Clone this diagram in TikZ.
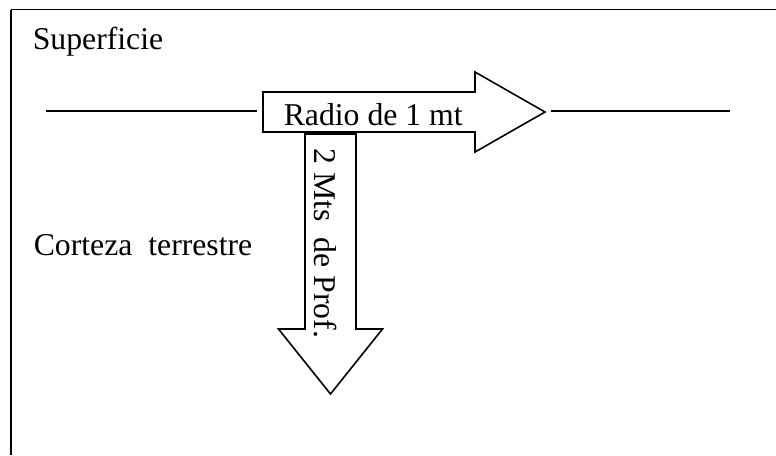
\documentclass[tikz,border=0pt]{standalone}
\usepackage{fontspec}
\setmainfont{Liberation Serif}
\begin{document}
\begin{tikzpicture}[x=0.75pt,y=-0.75pt,
  line width=1.2pt,
  label/.style={inner sep=0pt,font=\fontsize{23.8pt}{28pt}\selectfont},
  arrowbody/.style={draw=black,fill=white,line join=miter}]
\useasboundingbox (0,0) rectangle (776,455);

% frame (top and left edges)
\draw (11,9.5) -- (776,9.5);
\draw (11,9.5) -- (11,455);

% ground surface line, left and right of the arrow
\coordinate (gl1) at (46,111);
\coordinate (gl2) at (257,111);
\coordinate (gr1) at (551,111);
\coordinate (gr2) at (730,111);
\draw (gl1) -- (gl2);
\draw (gr1) -- (gr2);

% horizontal block arrow (radius)
\draw[arrowbody] (263,92) -- (475,92) -- (475,72) -- (545,112)
  -- (475,152) -- (475,132) -- (263,132) -- cycle;

% vertical block arrow (depth)
\draw[arrowbody] (305,134) -- (356,134) -- (356,329) -- (382.5,329)
  -- (330.5,394) -- (278.5,329) -- (305,329) -- cycle;

% texts
\node[label,anchor=base west] (sup) at (32,49) {Superficie};
\node[label,anchor=base west] (rad) at (283,125) {Radio de 1 mt};
\node[label,anchor=base west] (cor) at (33,255) {Corteza\ \ terrestre};
\node[label,anchor=base west,rotate=-90] (prof) at (314,148) {2 Mts\ \ de Prof.};
\end{tikzpicture}
\end{document}
